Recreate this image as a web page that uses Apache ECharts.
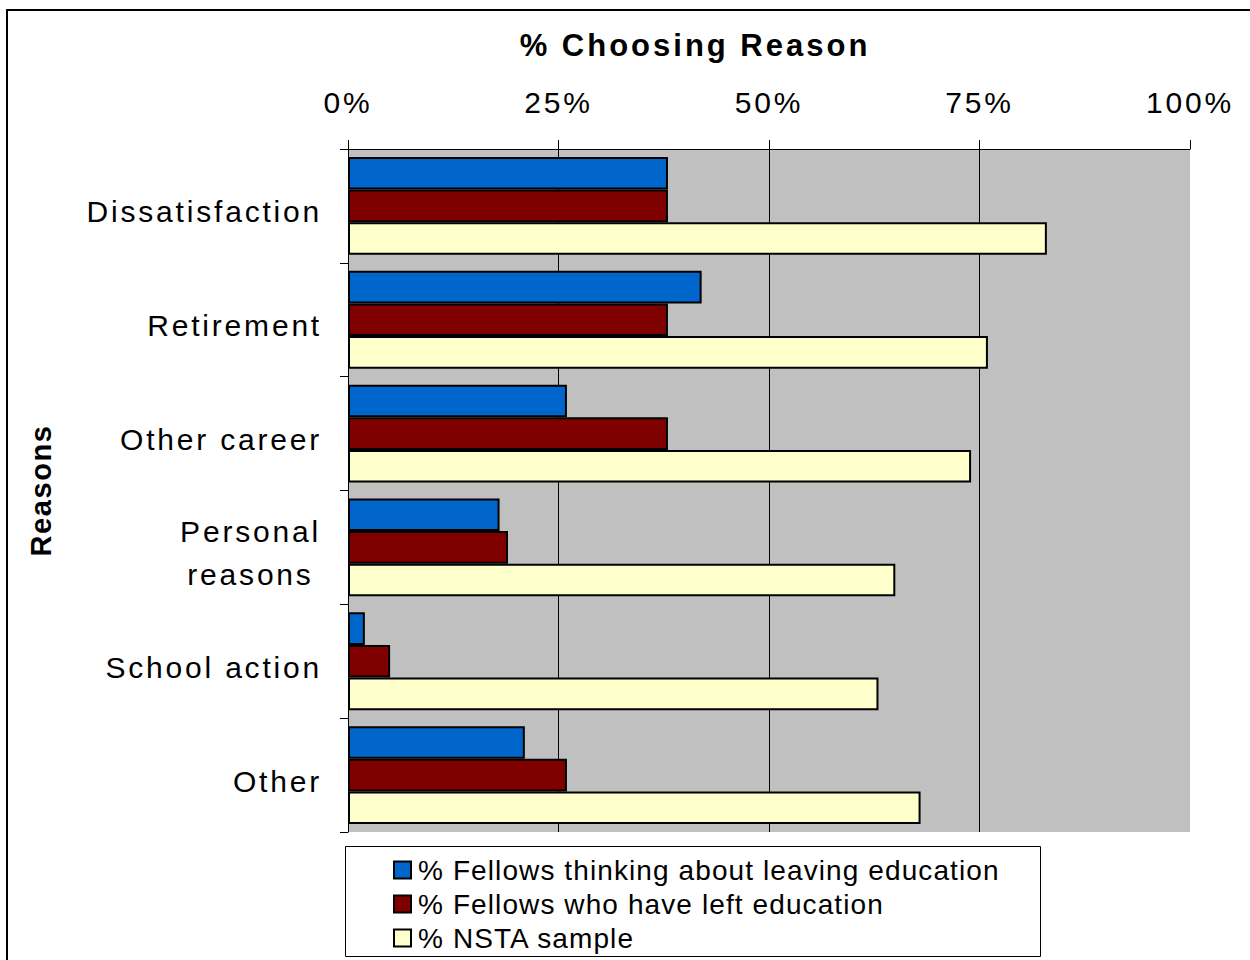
<!DOCTYPE html>
<html>
<head>
<meta charset="utf-8">
<script src="https://cdn.jsdelivr.net/npm/echarts@6/dist/echarts.min.js"></script>
<style>
html,body{margin:0;padding:0;background:#fff;}
#c{width:1250px;height:960px;}
#c svg text{letter-spacing:2.8px;}
#c svg text[style*="28px"]{letter-spacing:1.1px;}
#c svg text[style*="31px"]{letter-spacing:3px;}
#c svg text[style*="29px"]{letter-spacing:1.6px;}
</style>
</head>
<body>
<div id="c"></div>
<script>
var categories = ['Dissatisfaction', 'Retirement', 'Other career', 'Personal\nreasons', 'School action', 'Other'];
var seriesNames = ['% Fellows thinking about leaving education', '% Fellows who have left education', '% NSTA sample'];
var thinking = [38, 42, 26, 18, 2, 21];
var left = [38, 38, 38, 19, 5, 26];
var nsta = [83, 76, 74, 65, 63, 68];
var tickLabels = ['0%', '25%', '50%', '75%', '100%'];
var colors = ['#0066CC', '#800000', '#FFFFCC'];

var FONT = 'Liberation Sans, Arial, sans-serif';
var chart = echarts.init(document.getElementById('c'), null, {renderer: 'svg'});
function mk(name, data, color) {
  return {
    name: name, type: 'bar', data: data,
    barGap: '0%', barCategoryGap: '14%',
    itemStyle: {color: color, borderColor: '#000', borderWidth: 2},
    emphasis: {disabled: true}
  };
}
chart.setOption({
  animation: false,
  title: {
    text: '% Choosing Reason', left: 690, top: 25, textAlign: 'center',
    textStyle: {fontFamily: FONT, fontSize: 31, fontWeight: 'bold', color: '#000'}
  },
  grid: {left: 348, right: 60, top: 149, bottom: 128, show: true, backgroundColor: '#C0C0C0', borderWidth: 0},
  xAxis: {
    type: 'value', position: 'top', min: 0, max: 100, interval: 25,
    axisLine: {show: true, lineStyle: {color: '#000', width: 1}},
    axisTick: {show: true, length: 9, lineStyle: {color: '#000'}},
    axisLabel: {
      margin: 32, fontFamily: FONT, fontSize: 30, color: '#000',
      formatter: function (v) { return tickLabels[Math.round(v / 25)]; }
    },
    splitLine: {show: true, lineStyle: {color: ['transparent', '#000', '#000', '#000', 'transparent'], width: 1}}
  },
  yAxis: {
    type: 'category', data: categories, inverse: true,
    name: 'Reasons', nameLocation: 'middle', nameGap: 293, nameRotate: 90,
    nameTextStyle: {fontFamily: FONT, fontSize: 29, fontWeight: 'bold', color: '#000'},
    axisLine: {show: true, lineStyle: {color: '#000', width: 1}},
    axisTick: {show: true, length: 8, lineStyle: {color: '#000'}},
    axisLabel: {
      margin: 26, fontFamily: FONT, fontSize: 30, color: '#000', lineHeight: 43, padding: [12, 0, 0, 0],
      formatter: function (v) {
        if (v.indexOf('\n') >= 0) {
          return v.split('\n').map(function (s) { return '{c|' + s + '}'; }).join('\n');
        }
        return v;
      },
      rich: {c: {width: 143, align: 'center', fontFamily: FONT, fontSize: 30, lineHeight: 43, color: '#000'}}
    }
  },
  legend: {
    orient: 'vertical', left: 393, top: 855, height: 200, padding: 0, itemGap: 4, itemWidth: 17, itemHeight: 17,
    icon: 'rect', selectedMode: false,
    textStyle: {fontFamily: FONT, fontSize: 28, lineHeight: 30, color: '#000', padding: [0, 0, 0, 2]},
    data: seriesNames
  },
  graphic: [
    {type: 'rect', shape: {x: 7, y: 10, width: 1300, height: 1000}, style: {fill: 'none', stroke: '#000', lineWidth: 2}, silent: true, z: 100},
    {type: 'rect', shape: {x: 345.5, y: 846.5, width: 695, height: 110}, style: {fill: 'none', stroke: '#000', lineWidth: 1}, silent: true, z: 100}
  ],
  series: [mk(seriesNames[0], thinking, colors[0]), mk(seriesNames[1], left, colors[1]), mk(seriesNames[2], nsta, colors[2])]
});
</script>
</body>
</html>
